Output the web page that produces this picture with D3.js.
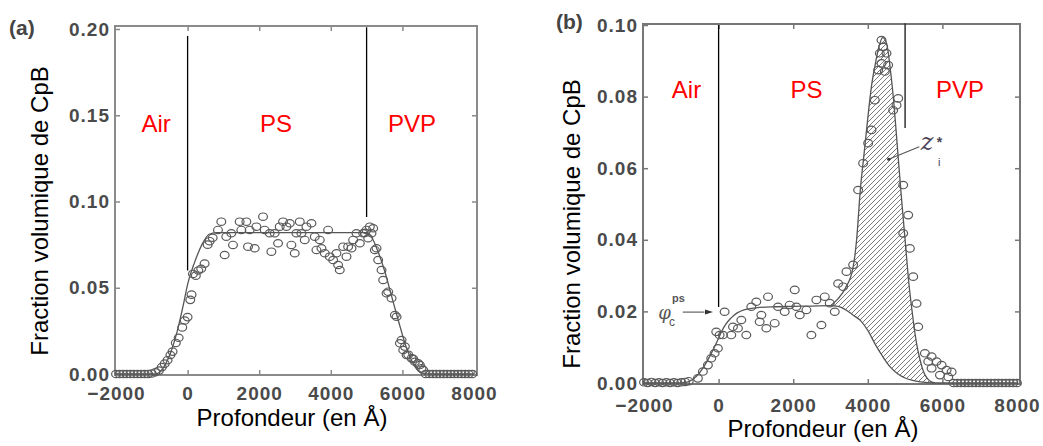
<!DOCTYPE html>
<html><head><meta charset="utf-8">
<script src="https://cdn.jsdelivr.net/npm/d3@7"></script>
<style>
html,body{margin:0;padding:0;background:#fff;}
svg{display:block;font-family:"Liberation Sans",Arial,sans-serif;}
</style></head>
<body>
<script>
// ---------- DATA ----------
const xTicks = [-2000, 0, 2000, 4000, 6000, 8000];
const yTicksA = [0, 0.05, 0.10, 0.15, 0.20];
const yTicksB = [0, 0.02, 0.04, 0.06, 0.08, 0.10];
const regionNames = ["Air", "PS", "PVP"];
const regionXA = [-880, 2470, 6270];
const regionXB = [-860, 2360, 6470];
const interfaces = [0, 5000];

// Panel (a) fitted profile
const aFitX = [-2000,-900,-700,-500,-300,-100,0,200,400,600,800,5000,5150,5300,5500,5700,5900,6100,6300,6500,6700,8000];
const aFitY = [0,0,0.003,0.011,0.024,0.042,0.052,0.065,0.075,0.081,0.082,0.082,0.079,0.072,0.060,0.045,0.030,0.016,0.006,0.001,0,0];

// Panel (a) measured points [depth, fraction]
const aPoints = [
 [-2000,0],[-1900,0],[-1800,0],[-1700,0],[-1600,0],[-1500,0],[-1400,0],[-1300,0],[-1200,0],[-1100,0],[-1000,0.0003],
 [-900,0.001],[-800,0.002],[-720,0.004],[-640,0.006],[-560,0.008],[-480,0.011],[-420,0.013],[-330,0.018],[-250,0.021],
 [-150,0.027],[-80,0.031],[0,0.033],[75,0.043],[110,0.046],[150,0.058],[230,0.057],[300,0.060],[380,0.061],[475,0.064],
 [560,0.075],[615,0.077],[700,0.079],
 [848,0.0835],[942,0.0883],[1035,0.0690],[1081,0.0796],[1221,0.0816],[1268,0.0748],[1454,0.0883],[1501,0.0835],
 [1641,0.0883],[1687,0.0738],[1734,0.0835],[1874,0.0729],[1921,0.0854],[2107,0.0912],[2154,0.0835],[2293,0.0816],
 [2340,0.0709],[2433,0.0816],[2527,0.0758],[2573,0.0854],[2666,0.0883],[2760,0.0854],[2853,0.0874],[2899,0.0748],
 [2993,0.0700],[3039,0.0816],[3133,0.0883],[3179,0.0816],[3272,0.0777],[3319,0.0854],[3459,0.0874],[3552,0.0796],
 [3599,0.0719],[3692,0.0777],[3739,0.0729],[3832,0.0700],[3925,0.0835],[3972,0.0680],[4065,0.0661],[4158,0.0700],
 [4205,0.0632],[4251,0.0603],[4345,0.0738],[4438,0.0680],[4484,0.0738],[4578,0.0729],[4624,0.0777],[4717,0.0816],
 [4811,0.0758],[4904,0.0816],[4997,0.0835],[5044,0.0787],[5137,0.0816],[5184,0.0845],
 [5090,0.0854],[4951,0.0818],[5230,0.0719],[5277,0.0729],[5323,0.0661],[5417,0.0603],[5463,0.0545],[5557,0.0468],
 [5603,0.0477],[5697,0.0439],[5790,0.0342],[5837,0.0332],[5930,0.0178],[5976,0.0197],[6023,0.0139],[6069,0.0159],
 [6117,0.0110],[6163,0.0112],[6257,0.0091],[6302,0.0088],[6350,0.0071],[6442,0.0062],[6489,0.0052],[6535,0.0033],[6583,0.0023],
 [6650,0],[6750,0],[6850,0],[6950,0],[7050,0],[7150,0],[7250,0],[7350,0],[7450,0],[7550,0],[7650,0],[7750,0],[7850,0],[7950,0]
];

// Panel (b) fitted (lower) profile
const bFitX = [-2000,-1000,-800,-600,-400,-200,0,100,200,300,400,500,700,1000,1500,2000,2500,3000,3200,3400,3600,3800,4000,4200,4400,4600,4800,5000,5200,5400,5600,5800,8000];
const bFitY = [0,0,0.0004,0.0018,0.0045,0.0082,0.0125,0.0148,0.0165,0.0178,0.0188,0.0196,0.0205,0.0210,0.0213,0.0214,0.0215,0.0216,0.0214,0.0205,0.0190,0.0175,0.0147,0.0108,0.0074,0.0045,0.0026,0.0014,0.0007,0.0003,0.0001,0,0];

// Panel (b) excess zone z_i* (hatched)
const zoneX      = [3000,3200,3400,3600,3700,3800,3900,4000,4100,4200,4300,4400,4500,4600,4700,4800,4900,5000,5100,5200,5300,5400,5500,5600,5700,5800];
const zoneTop    = [0.0216,0.0235,0.0265,0.0320,0.0400,0.0540,0.0640,0.0740,0.0830,0.0890,0.0940,0.0965,0.0950,0.0880,0.0780,0.0650,0.0520,0.0400,0.0280,0.0190,0.0115,0.0065,0.0030,0.0012,0.0003,0];
const zoneBottom = [0.0216,0.0214,0.0205,0.0190,0.0183,0.0175,0.0162,0.0147,0.0128,0.0108,0.0090,0.0074,0.0058,0.0045,0.0035,0.0026,0.0019,0.0014,0.0010,0.0007,0.0005,0.0003,0.0002,0.0001,0,0];

// Panel (b) measured points
const bPoints = [
 [-2000,0.0002],[-1900,0],[-1800,0.0003],[-1700,0],[-1600,0.0002],[-1500,0],[-1400,0.0002],[-1300,0],[-1200,0.0002],[-1100,0],[-1000,0.0002],[-900,0.0003],[-800,0.0005],
 [-555,0.0013],[-421,0.0032],[-287,0.0050],[-197,0.0069],[-107,0.0083],[-19,0.0097],[27,0.0134],
 [161,0.0199],[385,0.0157],[-63,0.0143],[116,0.0134],[340,0.0134],[519,0.0153],[609,0.0176],[743,0.0134],[877,0.0213],
 [1011,0.0227],[1146,0.0190],[1325,0.0241],[1101,0.0171],[1280,0.0153],[1504,0.0167],[1593,0.0213],[1772,0.0199],
 [1906,0.0218],[2041,0.0260],[2085,0.0213],[2175,0.0190],[2354,0.0204],[2488,0.0134],[2622,0.0232],[2757,0.0162],
 [2846,0.0241],[2980,0.0223],[3114,0.0199],[3204,0.0278],[3338,0.0269],[3428,0.0311],[3607,0.0330],
 [3741,0.0539],[3875,0.0614],[4009,0.0670],[4099,0.0707],[4188,0.0790],[4278,0.0874],[4322,0.0921],[4367,0.0893],
 [4367,0.0958],[4412,0.0939],[4457,0.0870],[4501,0.0921],[4546,0.0888],[4680,0.0762],[4770,0.0776],[4815,0.0795],
 [4949,0.0553],[5083,0.0469],
 [4949,0.0418],[5128,0.0376],[5218,0.0297],[5307,0.0222],[5352,0.0157],[5531,0.0083],[5620,0.0060],[5710,0.0074],
 [5710,0.0041],[5844,0.0060],[5934,0.0022],[5979,0.0050],[6113,0.0036],[6158,0.0017],[6247,0.0031],
 [6300,0],[6400,0],[6500,0],[6600,0],[6700,0],[6800,0],[6900,0],[7000,0],[7100,0],[7200,0],[7300,0],[7400,0],[7500,0],[7600,0],[7700,0],[7800,0],[7900,0],[8000,0]
];

// ---------- DRAW ----------
const W = 1043, H = 446;
const svg = d3.select("body").append("svg").attr("width", W).attr("height", H);
svg.append("rect").attr("width", W).attr("height", H).attr("fill", "#fff");

const defs = svg.append("defs");
const pat = defs.append("pattern").attr("id", "hatch").attr("patternUnits", "userSpaceOnUse")
  .attr("width", 5).attr("height", 5);
pat.append("path").attr("d", "M0,5 L5,0 M-1,1 L1,-1 M4,6 L6,4")
  .attr("stroke", "#6a6a6a").attr("stroke-width", 0.9);

function panel(cfg) {
  const { x, y, yTicks, yFmt, frameColor, labelPadX, labelPadY, fitX, fitY, points, regionX, regionY, topPad } = cfg;
  const g = svg.append("g");
  const [x0, x1] = x.range(); const [yb, yt] = y.range();
  const L = x0 - 1, R = x1 + 3, T = yt - topPad, B = yb + 1;

  const ax = g.append("g").attr("transform", `translate(0,${B})`)
    .call(d3.axisBottom(x).tickValues(xTicks).tickSizeInner(-5).tickSizeOuter(0)
      .tickPadding(labelPadY).tickFormat(d3.format("d")));
  const axT = g.append("g").attr("transform", `translate(0,${T})`)
    .call(d3.axisTop(x).tickValues(xTicks.slice(1, -1)).tickSizeInner(-5).tickSizeOuter(0).tickFormat(() => ""));
  const ay = g.append("g").attr("transform", `translate(${L},0)`)
    .call(d3.axisLeft(y).tickValues(yTicks).tickSizeInner(-5).tickSizeOuter(0)
      .tickPadding(labelPadX).tickFormat(d3.format(yFmt)));
  const ayR = g.append("g").attr("transform", `translate(${R},0)`)
    .call(d3.axisRight(y).tickValues(yTicks.slice(1, -1)).tickSizeInner(-5).tickSizeOuter(0).tickFormat(() => ""));
  [ax, axT, ay, ayR].forEach(a => {
    a.select(".domain").remove();
    a.selectAll(".tick line").attr("stroke", frameColor).attr("stroke-width", 1.5);
    a.selectAll("text").attr("font-size", 19).attr("font-weight", "bold")
      .attr("fill", "#4a4a4a").attr("letter-spacing", "1px")
      .attr("font-family", "'Liberation Sans', Arial, sans-serif");
  });

  g.append("rect").attr("x", L).attr("y", T).attr("width", R - L).attr("height", B - T)
    .attr("fill", "none").attr("stroke", frameColor).attr("stroke-width", 2);

  const fit = fitX.map((d, i) => [d, fitY[i]]);
  g.append("path").datum(fit)
    .attr("d", d3.line().x(d => x(d[0])).y(d => y(d[1])).curve(d3.curveMonotoneX))
    .attr("fill", "none").attr("stroke", "#555").attr("stroke-width", 1.3);

  g.append("g").selectAll("ellipse").data(points).join("ellipse")
    .attr("cx", d => x(d[0])).attr("cy", d => y(d[1]))
    .attr("rx", 4.4).attr("ry", 3.7)
    .attr("fill", "none").attr("stroke", "#5a5a5a").attr("stroke-width", 1.2);

  g.append("g").selectAll("text").data(regionNames).join("text")
    .attr("x", (d, i) => x(regionX[i])).attr("y", y(regionY))
    .attr("text-anchor", "middle").attr("dominant-baseline", "central")
    .attr("font-size", 24).attr("fill", "#ff0000").text(d => d);
  return g;
}

// Panel (a)
const xA = d3.scaleLinear().domain([-2000, 8000]).range([116, 474]);
const yA = d3.scaleLinear().domain([0, 0.2]).range([374, 29]);
const gA = panel({ x: xA, y: yA, yTicks: yTicksA, yFmt: ".2f", frameColor: "#8a8a8a", topPad: 3,
  labelPadX: 5, labelPadY: 12, fitX: aFitX, fitY: aFitY, points: aPoints, regionX: regionXA, regionY: 0.1455 });
gA.append("line").attr("x1", xA(interfaces[0])).attr("x2", xA(interfaces[0]))
  .attr("y1", yA(0.196)).attr("y2", yA(0.060)).attr("stroke", "#000").attr("stroke-width", 1.3);
gA.append("line").attr("x1", xA(interfaces[1])).attr("x2", xA(interfaces[1]))
  .attr("y1", yA(0.201)).attr("y2", yA(0.091)).attr("stroke", "#000").attr("stroke-width", 1.3);
svg.append("text").attr("x", 9).attr("y", 35).attr("font-size", 21).attr("font-weight", "bold")
  .attr("fill", "#444").text("(a)");
svg.append("text").attr("transform", "translate(39,211) rotate(-90)")
  .attr("text-anchor", "middle").attr("dominant-baseline", "central")
  .attr("font-size", 24).attr("fill", "#000").text("Fraction volumique de CpB");
svg.append("text").attr("x", 292).attr("y", 426).attr("text-anchor", "middle")
  .attr("font-size", 24).attr("fill", "#000").text("Profondeur (en Å)");

// Panel (b)
const xB = d3.scaleLinear().domain([-2000, 8000]).range([644, 1017]);
const yB = d3.scaleLinear().domain([0, 0.1]).range([383, 25]);

const zone = zoneX.map((d, i) => [d, zoneTop[i], zoneBottom[i]]);
svg.append("path").datum(zone)
  .attr("d", d3.area().x(d => xB(d[0])).y0(d => yB(d[2])).y1(d => yB(d[1])).curve(d3.curveMonotoneX))
  .attr("fill", "url(#hatch)").attr("stroke", "none");
svg.append("path").datum(zone)
  .attr("d", d3.line().x(d => xB(d[0])).y(d => yB(d[1])).curve(d3.curveMonotoneX))
  .attr("fill", "none").attr("stroke", "#555").attr("stroke-width", 1.3);

const gB = panel({ x: xB, y: yB, yTicks: yTicksB, yFmt: ".2f", frameColor: "#777", topPad: 1,
  labelPadX: 5, labelPadY: 15, fitX: bFitX, fitY: bFitY, points: bPoints, regionX: regionXB, regionY: 0.0821 });
gB.append("line").attr("x1", xB(interfaces[0])).attr("x2", xB(interfaces[0]))
  .attr("y1", yB(0.1)).attr("y2", yB(0.0212)).attr("stroke", "#000").attr("stroke-width", 1.3);
gB.append("line").attr("x1", xB(interfaces[1])).attr("x2", xB(interfaces[1]))
  .attr("y1", yB(0.1005)).attr("y2", yB(0.0712)).attr("stroke", "#333").attr("stroke-width", 1.5);
svg.append("text").attr("x", 556).attr("y", 29).attr("font-size", 21).attr("font-weight", "bold")
  .attr("fill", "#444").text("(b)");
svg.append("text").attr("transform", "translate(571,224) rotate(-90)")
  .attr("text-anchor", "middle").attr("dominant-baseline", "central")
  .attr("font-size", 24).attr("fill", "#000").text("Fraction volumique de CpB");
svg.append("text").attr("x", 823).attr("y", 437).attr("text-anchor", "middle")
  .attr("font-size", 24).attr("fill", "#000").text("Profondeur (en Å)");

// annotation z_i*
gB.append("line").attr("x1", xB(5380)).attr("y1", yB(0.0660)).attr("x2", xB(4560)).attr("y2", yB(0.0625))
  .attr("stroke", "#555").attr("stroke-width", 1.1);
gB.append("circle").attr("cx", xB(4560)).attr("cy", yB(0.0625)).attr("r", 1.6).attr("fill", "#333");
gB.append("text").attr("x", xB(5420)).attr("y", yB(0.0651)).attr("fill", "#4a4458")
  .attr("font-family", "'DejaVu Serif', serif").attr("font-style", "italic").attr("font-size", 24).text("z");
gB.append("text").attr("x", xB(5850)).attr("y", yB(0.0660)).attr("fill", "#4a4458")
  .attr("font-size", 14).attr("font-weight", "bold").text("*");
gB.append("text").attr("x", xB(5880)).attr("y", yB(0.0607)).attr("fill", "#4a4458").attr("font-size", 11).text("i");

// annotation phi_c^ps
gB.append("text").attr("x", xB(-1620)).attr("y", yB(0.0178)).attr("fill", "#555")
  .attr("font-family", "'DejaVu Serif', serif").attr("font-style", "italic").attr("font-size", 18).text("φ");
gB.append("text").attr("x", xB(-1250)).attr("y", yB(0.0225)).attr("fill", "#555").attr("font-size", 11)
  .attr("font-weight", "bold").text("ps");
gB.append("text").attr("x", xB(-1330)).attr("y", yB(0.0158)).attr("fill", "#555").attr("font-size", 12).text("c");
gB.append("line").attr("x1", xB(-960)).attr("x2", xB(-380)).attr("y1", yB(0.0198)).attr("y2", yB(0.0198))
  .attr("stroke", "#777").attr("stroke-width", 1.4);
gB.append("path").attr("d", `M${xB(-150)},${yB(0.0198)} l-8,-2.5 l0,5 z`).attr("fill", "#333");
</script>
</body></html>
